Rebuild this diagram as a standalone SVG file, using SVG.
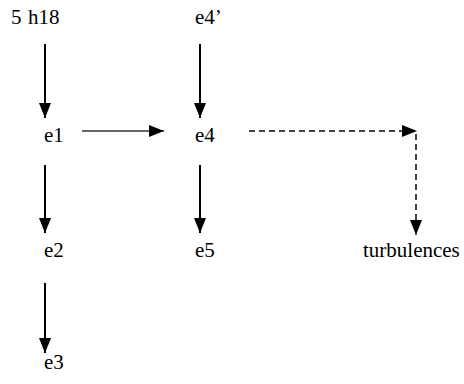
<svg xmlns="http://www.w3.org/2000/svg" width="464" height="384" viewBox="0 0 464 384">
<style>
text{font-family:"Liberation Serif","Times New Roman",serif;font-size:21px;fill:#000}
.a{stroke:#000;stroke-width:2;fill:none}
.h{stroke:#333;stroke-width:1.5;fill:none}
.d{stroke:#444;stroke-width:2;stroke-dasharray:6 4;fill:none}
</style>
<defs>
<marker id="ah" viewBox="0 0 15 12" refX="15" refY="6" markerWidth="15" markerHeight="12" markerUnits="userSpaceOnUse" orient="auto"><path d="M0,0 L15,6 L0,12 Z" fill="#000"/></marker>
</defs>
<rect width="464" height="384" fill="#fff"/>
<g id="connectors">
<line class="a" x1="45" y1="44" x2="45" y2="118" marker-end="url(#ah)"/>
<line class="a" x1="200" y1="44" x2="200" y2="118" marker-end="url(#ah)"/>
<line class="h" x1="82" y1="131" x2="164" y2="131" marker-end="url(#ah)"/>
<line class="a" x1="45" y1="165" x2="45" y2="233" marker-end="url(#ah)"/>
<line class="a" x1="200" y1="165" x2="200" y2="233" marker-end="url(#ah)"/>
<line class="a" x1="45" y1="283" x2="45" y2="353" marker-end="url(#ah)"/>
<line class="d" x1="249" y1="131" x2="417" y2="131" marker-end="url(#ah)"/>
<line class="d" x1="416" y1="134" x2="416" y2="235" marker-end="url(#ah)"/>
</g>
<g id="n-5h18"><text x="11" y="24">5 <tspan x="28">h18</tspan></text></g>
<g id="n-e4p"><text x="195" y="24">e4’</text></g>
<g id="n-e1"><text x="44" y="142">e1</text></g>
<g id="n-e4"><text x="195" y="142">e4</text></g>
<g id="n-e2"><text x="44" y="257">e2</text></g>
<g id="n-e5"><text x="195" y="257">e5</text></g>
<g id="n-turb"><text x="363" y="257">turbulences</text></g>
<g id="n-e3"><text x="44" y="369">e3</text></g>
</svg>
